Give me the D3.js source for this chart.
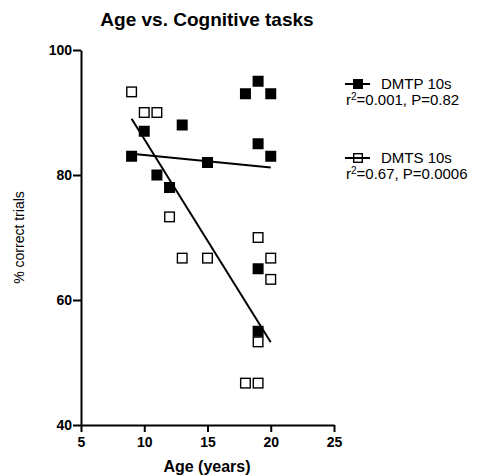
<!DOCTYPE html>
<html>
<head>
<meta charset="utf-8">
<script src="https://cdn.jsdelivr.net/npm/d3@7"></script>
<style>
  body { margin: 0; background: white; }
  text { font-family: "Liberation Sans", Arial, sans-serif; }
</style>
</head>
<body>
<svg id="chart" width="481" height="476"></svg>
<script>
// data
const dmtpAge   = [9, 10, 11, 12, 13, 15, 18, 19, 19, 19, 19, 20, 20];
const dmtpScore = [83, 87, 80, 78, 88, 82, 93, 95, 85, 65, 55, 93, 83];
const dmtsAge   = [9, 10, 11, 12, 13, 15, 18, 19, 19, 19, 20, 20];
const dmtsScore = [93.3, 90, 90, 73.3, 66.7, 66.7, 46.7, 70, 53.3, 46.7, 66.7, 63.3];

// fitted lines: [slope, intercept], drawn over age 9..20
const dmtpFit = [-0.2, 85.2];
const dmtsFit = [-3.25, 118.25];
const fitRange = [9, 20];

const xTicks = [5, 10, 15, 20, 25];
const yTicks = [40, 60, 80, 100];

const seriesNames = ["DMTP 10s", "DMTS 10s"];
const statsText = [["0.001", "0.82"], ["0.67", "0.0006"]];

const CONSTANTS = {
    LEFT: 81,
    RIGHT: 334,
    TOP: 50,
    BOTTOM: 425,
    SQ: 11,
};

const svg = d3.select("#chart");

var x = d3.scaleLinear().domain([5, 25]).range([CONSTANTS.LEFT, CONSTANTS.RIGHT]);
var y = d3.scaleLinear().domain([40, 100]).range([CONSTANTS.BOTTOM, CONSTANTS.TOP]);

// title
svg.append("text")
    .attr("x", 207)
    .attr("y", 26)
    .attr("text-anchor", "middle")
    .style("font-size", "19px")
    .style("font-weight", "bold")
    .text("Age vs. Cognitive tasks");

// axes
var xAxis = svg.append("g")
    .attr("transform", "translate(0," + CONSTANTS.BOTTOM + ")")
    .call(d3.axisBottom(x).tickValues(xTicks).tickSize(7).tickSizeOuter(0).tickPadding(5));

var yAxis = svg.append("g")
    .attr("transform", "translate(" + CONSTANTS.LEFT + ",0)")
    .call(d3.axisLeft(y).tickValues(yTicks).tickSize(8).tickSizeOuter(0).tickPadding(1));

[xAxis, yAxis].forEach(function (g) {
    g.select(".domain").attr("stroke", "#000").attr("stroke-width", 2);
    g.selectAll(".tick line").attr("stroke", "#000").attr("stroke-width", 2);
    g.selectAll(".tick text")
        .attr("fill", "#000")
        .style("font-size", "14px")
        .style("font-weight", "bold")
        .style("font-family", "'Liberation Sans', Arial, sans-serif");
});

// axis titles
svg.append("text")
    .attr("x", 207)
    .attr("y", 472)
    .attr("text-anchor", "middle")
    .style("font-size", "16px")
    .style("font-weight", "bold")
    .text("Age (years)");

svg.append("text")
    .attr("transform", "translate(24," + ((CONSTANTS.TOP + CONSTANTS.BOTTOM) / 2) + ") rotate(-90)")
    .attr("text-anchor", "middle")
    .style("font-size", "14px")
    .text("% correct trials");

// open squares (DMTS)
svg.append("g")
    .selectAll("rect")
    .data(d3.zip(dmtsAge, dmtsScore))
    .enter()
    .append("rect")
        .attr("x", d => x(d[0]) - (CONSTANTS.SQ - 1.4) / 2)
        .attr("y", d => y(d[1]) - (CONSTANTS.SQ - 1.4) / 2)
        .attr("width", CONSTANTS.SQ - 1.4)
        .attr("height", CONSTANTS.SQ - 1.4)
        .attr("fill", "white")
        .attr("stroke", "#000")
        .attr("stroke-width", 1.4);

// filled squares (DMTP)
svg.append("g")
    .selectAll("rect")
    .data(d3.zip(dmtpAge, dmtpScore))
    .enter()
    .append("rect")
        .attr("x", d => x(d[0]) - CONSTANTS.SQ / 2)
        .attr("y", d => y(d[1]) - CONSTANTS.SQ / 2)
        .attr("width", CONSTANTS.SQ)
        .attr("height", CONSTANTS.SQ)
        .attr("fill", "#000");

// regression lines
[dmtpFit, dmtsFit].forEach(function (fit) {
    svg.append("line")
        .attr("x1", x(fitRange[0]))
        .attr("y1", y(fit[0] * fitRange[0] + fit[1]))
        .attr("x2", x(fitRange[1]))
        .attr("y2", y(fit[0] * fitRange[1] + fit[1]))
        .attr("stroke", "#000")
        .attr("stroke-width", 2);
});

// legend
var legendY = [84, 158];
seriesNames.forEach(function (name, i) {
    var g = svg.append("g").attr("transform", "translate(0," + legendY[i] + ")");
    g.append("line")
        .attr("x1", 345).attr("x2", 370)
        .attr("y1", 0).attr("y2", 0)
        .attr("stroke", "#000")
        .attr("stroke-width", 2);
    if (i === 0) {
        g.append("rect")
            .attr("x", 353).attr("y", -5)
            .attr("width", 10).attr("height", 10)
            .attr("fill", "#000");
    } else {
        g.append("rect")
            .attr("x", 353.7).attr("y", -4.3)
            .attr("width", 8.6).attr("height", 8.6)
            .attr("fill", "none")
            .attr("stroke", "#000")
            .attr("stroke-width", 1.4);
    }
    g.append("text")
        .attr("x", 381)
        .attr("y", 5)
        .style("font-size", "15px")
        .text(name);
    var t = g.append("text")
        .attr("x", 346)
        .attr("y", 21)
        .style("font-size", "15px");
    t.append("tspan").text("r");
    t.append("tspan")
        .attr("dy", -5)
        .style("font-size", "10px")
        .text("2");
    t.append("tspan")
        .attr("dy", 5)
        .text("=" + statsText[i][0] + ", P=" + statsText[i][1]);
});
</script>
</body>
</html>
